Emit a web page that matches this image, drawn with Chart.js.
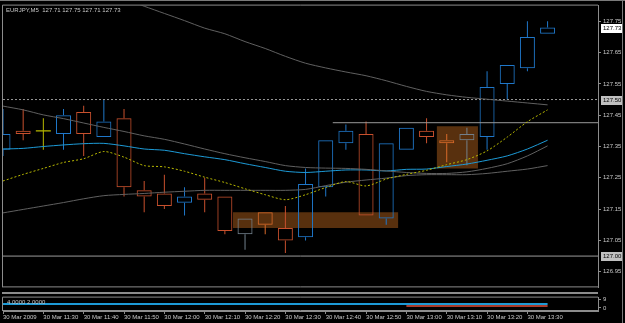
<!DOCTYPE html>
<html><head><meta charset="utf-8">
<script src="https://cdn.jsdelivr.net/npm/chart.js@4.4.0/dist/chart.umd.min.js"></script>
<style>
html,body{margin:0;padding:0;background:#000;width:625px;height:323px;overflow:hidden}
#wrap{position:relative;width:625px;height:323px;background:#000}
#main{position:absolute;left:0;top:0}
#sub{position:absolute;left:0;top:292px}
#topEdge{position:absolute;left:0;top:0;width:625px;height:1px;background:#7a7a7a}
#rightEdge{position:absolute;left:622px;top:0;width:1px;height:323px;background:#7a7a7a}
</style></head><body>
<div id="wrap"><canvas id="main" width="625" height="293"></canvas><canvas id="sub" width="625" height="31"></canvas><div id="topEdge"></div><div id="rightEdge"></div></div>
<script>
// ---------- data ----------
const symbol = 'EURJPY,M5';
const times = ['11:20','11:25','11:30','11:35','11:40','11:45','11:50','11:55','12:00','12:05','12:10','12:15','12:20','12:25','12:30','12:35','12:40','12:45','12:50','12:55','13:00','13:05','13:10','13:15','13:20','13:25','13:30','13:35'];
const xTickLabels = ['30 Mar 2009','30 Mar 11:30','30 Mar 11:40','30 Mar 11:50','30 Mar 12:00','30 Mar 12:10','30 Mar 12:20','30 Mar 12:30','30 Mar 12:40','30 Mar 12:50','30 Mar 13:00','30 Mar 13:10','30 Mar 13:20','30 Mar 13:30'];
const open  = [127.34,127.40,127.40,127.39,127.46,127.38,127.44,127.21,127.20,127.17,127.20,127.19,127.07,127.14,127.09,127.06,127.22,127.36,127.39,127.12,127.34,127.40,127.37,127.37,127.38,127.55,127.60,127.71];
const high  = [127.47,127.47,127.44,127.47,127.48,127.50,127.47,127.24,127.26,127.22,127.25,127.19,127.12,127.14,127.16,127.28,127.37,127.42,127.43,127.36,127.41,127.44,127.39,127.41,127.59,127.61,127.75,127.75];
const low   = [127.32,127.37,127.34,127.34,127.32,127.38,127.19,127.14,127.15,127.13,127.14,127.07,127.02,127.07,127.01,127.05,127.19,127.34,127.13,127.10,127.34,127.36,127.30,127.29,127.34,127.50,127.59,127.71];
const close = [127.39,127.39,127.40,127.45,127.39,127.43,127.22,127.19,127.16,127.19,127.18,127.08,127.12,127.10,127.05,127.23,127.37,127.40,127.13,127.36,127.41,127.38,127.36,127.39,127.54,127.61,127.70,127.73];
const maLong  = [127.981,127.949,127.921,127.893,127.869,127.844,127.822,127.798,127.775,127.752,127.728,127.710,127.685,127.663,127.638,127.616,127.601,127.588,127.576,127.560,127.542,127.526,127.515,127.507,127.501,127.495,127.489,127.483];
const bandUp  = [127.479,127.467,127.451,127.439,127.425,127.411,127.398,127.384,127.373,127.358,127.342,127.327,127.314,127.302,127.289,127.283,127.281,127.280,127.277,127.272,127.267,127.264,127.264,127.269,127.280,127.295,127.320,127.352];
const bandLow = [127.138,127.149,127.160,127.171,127.183,127.193,127.197,127.200,127.204,127.207,127.210,127.210,127.210,127.210,127.210,127.213,127.225,127.236,127.243,127.249,127.257,127.260,127.260,127.260,127.264,127.271,127.278,127.289];
const maCyan  = [127.342,127.344,127.350,127.355,127.359,127.360,127.352,127.342,127.338,127.327,127.317,127.308,127.295,127.283,127.271,127.267,127.271,127.275,127.275,127.272,127.277,127.278,127.286,127.294,127.306,127.320,127.342,127.370];
const maFast  = [127.240,127.261,127.280,127.299,127.311,127.334,127.316,127.289,127.285,127.271,127.252,127.235,127.215,127.196,127.180,127.196,127.219,127.238,127.224,127.246,127.261,127.274,127.292,127.308,127.336,127.380,127.429,127.467];
const hLevels = [127.50, 127.00];
const trendLevel = 127.426, trendFrom = 16.35;
const zones = [ {from:11.4, to:19.6, lo:127.09, hi:127.14}, {from:21.5, to:23.55, lo:127.28, hi:127.415} ];
const priceTicks = [126.95,127.05,127.15,127.25,127.35,127.45,127.55,127.65,127.75];
const indA = times.map(() => 4);
const indB = [null,null,null,null,null,null,null,null,null,null,null,null,null,null,null,null,null,null,null,null,2,2,2,2,2,2,2,2];
const indLabel = '4.0000 2.0000';

// ---------- style ----------
const FONT = '"Liberation Sans", Arial, sans-serif';
const BULL='#1f77c9', BEAR='#c8502d', DOJI='#b9b900', TINT_BULL='#72808c', TINT_BEAR='#d86a2a';
const ZONE='#58300e', CYAN='#1d9ad6', YEL='#b8b800', GRAYMA='#606060', HLINE='#9a9a9a', AXIS='#8c8c8c', TXT='#c8c8c8';
const X_MIN = 0, X_MAX = 29.5;
const pts = arr => arr.map((v,i)=>({x:i, y:v}));

function candleColor(i){
  const o=open[i], c=close[i];
  if (o===c) return DOJI;
  const mid=(o+c)/2;
  const inZone = zones.some(z => i>=z.from && i<=z.to && mid>=z.lo && mid<=z.hi);
  if (c>o) return inZone?TINT_BULL:BULL;
  return inZone?TINT_BEAR:BEAR;
}
const idx = times.map((_,i)=>i);
const bodyData = idx.filter(i=>open[i]!==close[i]).map(i=>({x:i, y:[Math.min(open[i],close[i]), Math.max(open[i],close[i])]}));
const wickUpData = idx.filter(i=>high[i]>Math.max(open[i],close[i])).map(i=>({x:i, y:[Math.max(open[i],close[i]), high[i]]}));
const wickDnData = idx.filter(i=>low[i]<Math.min(open[i],close[i])).map(i=>({x:i, y:[low[i], Math.min(open[i],close[i])]}));
const dojiData = idx.filter(i=>open[i]===close[i]).map(i=>({x:i, y:open[i]}));

const colorCtx = c => candleColor(c.raw ? c.raw.x : 0);
const barBase = {type:'bar', grouped:false, borderSkipped:false, inflateAmount:0};

const datasets = [];
zones.forEach(z => {
  datasets.push({type:'line', data:[{x:z.from,y:z.hi},{x:z.to,y:z.hi}], borderWidth:0, pointRadius:0, order:20});
  datasets.push({type:'line', data:[{x:z.from,y:z.lo},{x:z.to,y:z.lo}], borderWidth:0, pointRadius:0, fill:'-1', backgroundColor:ZONE, order:20});
});
datasets.push(Object.assign({}, barBase, {data:wickUpData, backgroundColor:colorCtx, borderWidth:0, barThickness:1, maxBarThickness:1, order:8}));
datasets.push(Object.assign({}, barBase, {data:wickDnData, backgroundColor:colorCtx, borderWidth:0, barThickness:1, maxBarThickness:1, order:8}));
datasets.push(Object.assign({}, barBase, {data:bodyData, backgroundColor:'rgba(0,0,0,0)', borderColor:colorCtx, borderWidth:1, barThickness:15, maxBarThickness:15, order:7}));
datasets.push({type:'line', data:dojiData, showLine:false, pointStyle:'line', pointRadius:7.5, borderColor:DOJI, pointBorderWidth:1.2, order:6});
datasets.push({type:'line', data:[{x:X_MIN,y:hLevels[0]},{x:X_MAX,y:hLevels[0]}], borderColor:HLINE, borderWidth:1, borderDash:[2,2], pointRadius:0, order:5});
datasets.push({type:'line', data:[{x:X_MIN,y:hLevels[1]},{x:X_MAX,y:hLevels[1]}], borderColor:HLINE, borderWidth:1, pointRadius:0, order:5});
datasets.push({type:'line', data:[{x:trendFrom,y:trendLevel},{x:X_MAX,y:trendLevel}], borderColor:HLINE, borderWidth:1, pointRadius:0, order:5});
[[maLong,GRAYMA],[bandUp,GRAYMA],[bandLow,GRAYMA],[maCyan,CYAN]].forEach(([arr,col])=>{
  datasets.push({type:'line', data:pts(arr), borderColor:col, borderWidth:1, pointRadius:0, tension:0.25, order:2});
});
datasets.push({type:'line', data:pts(maFast), borderColor:YEL, borderWidth:1, borderDash:[2,2], pointRadius:0, tension:0.25, order:1});

const framePlugin = {
  id:'frame',
  afterDraw(chart){
    const {ctx, chartArea:a} = chart;
    ctx.save();
    ctx.strokeStyle = AXIS; ctx.lineWidth = 1;
    ctx.beginPath();
    ctx.moveTo(a.left-0.5, a.bottom); ctx.lineTo(a.left-0.5, a.top-0.5); ctx.lineTo(a.right, a.top-0.5);
    ctx.moveTo(a.left, a.bottom-0.5); ctx.lineTo(a.right, a.bottom-0.5);
    ctx.stroke();
    ctx.restore();
  }
};
const headerPlugin = {
  id:'header',
  afterDraw(chart){
    const {ctx, chartArea:a, scales} = chart;
    const n = close.length-1;
    ctx.save();
    ctx.font = '6px '+FONT; ctx.fillStyle = TXT; ctx.textBaseline='middle'; ctx.textAlign='left';
    ctx.fillText(symbol+'  '+[open[n],high[n],low[n],close[n]].map(v=>v.toFixed(2)).join(' '), a.left+3, a.top+5);
    const y = scales.y;
    const marks = [{v:close[n], bg:'#ffffff'}].concat(hLevels.map(v=>({v, bg:'#c0c0c0'})));
    marks.forEach(m=>{
      const py = y.getPixelForValue(m.v);
      ctx.fillStyle = m.bg; ctx.fillRect(a.right+3, Math.round(py)-4, 21, 9);
      ctx.fillStyle = '#000'; ctx.fillText(m.v.toFixed(2), a.right+5, py+0.5);
    });
    ctx.restore();
  }
};

new Chart(document.getElementById('main'), {
  data:{datasets},
  plugins:[framePlugin, headerPlugin],
  options:{
    responsive:false, animation:false, devicePixelRatio:1,
    layout:{autoPadding:false, padding:{left:3, top:3, right:0, bottom:1}},
    plugins:{legend:{display:false}, tooltip:{enabled:false}},
    scales:{
      x:{type:'linear', min:X_MIN, max:X_MAX, offset:false, display:false},
      y:{position:'right', min:126.90, max:127.80,
        afterBuildTicks:s=>{s.ticks = priceTicks.map(v=>({value:v}));},
        afterFit:s=>{s.width = 27;},
        ticks:{color:TXT, font:{family:FONT, size:6}, padding:2, callback:v=>Number(v).toFixed(2)},
        grid:{drawOnChartArea:false, tickLength:3, color:AXIS},
        border:{display:true, color:AXIS}}
    }
  }
});

const subLabelPlugin = {
  id:'sublabel',
  afterDraw(chart){
    const {ctx, chartArea:a} = chart;
    ctx.save();
    ctx.fillStyle = AXIS;
    ctx.fillRect(a.left-1, 0, a.right-a.left+1, 2);
    ctx.font = '6px '+FONT; ctx.fillStyle = TXT; ctx.textBaseline='middle';
    ctx.fillText(indLabel, a.left+4, a.top+5);
    ctx.restore();
  }
};
new Chart(document.getElementById('sub'), {
  type:'line',
  data:{datasets:[
    {data:pts(indA), borderColor:CYAN, borderWidth:2, pointRadius:0},
    {data:pts(indB), borderColor:'#e0503c', borderWidth:1.5, pointRadius:0}
  ]},
  plugins:[framePlugin, subLabelPlugin],
  options:{
    responsive:false, animation:false, devicePixelRatio:1,
    layout:{autoPadding:false, padding:{left:3, top:2, right:0, bottom:0}},
    plugins:{legend:{display:false}, tooltip:{enabled:false}},
    scales:{
      x:{type:'linear', min:X_MIN, max:X_MAX, offset:false,
        afterBuildTicks:s=>{s.ticks = xTickLabels.map((_,k)=>({value:k*2}));},
        afterFit:s=>{s.height = 12;},
        ticks:{align:'start', maxRotation:0, autoSkip:false, color:TXT, font:{family:FONT, size:6}, padding:0,
          callback:(v,k)=>xTickLabels[k]},
        grid:{drawOnChartArea:false, tickLength:3, color:AXIS},
        border:{display:true, color:AXIS}},
      y:{position:'right', min:-3.27, max:10.64,
        afterBuildTicks:s=>{s.ticks = [{value:9},{value:0}];},
        afterFit:s=>{s.width = 27;},
        ticks:{color:TXT, font:{family:FONT, size:6}, padding:2, callback:v=>String(v)},
        grid:{drawOnChartArea:false, tickLength:3, color:AXIS},
        border:{display:true, color:AXIS}}
    }
  }
});
</script>
</body></html>
